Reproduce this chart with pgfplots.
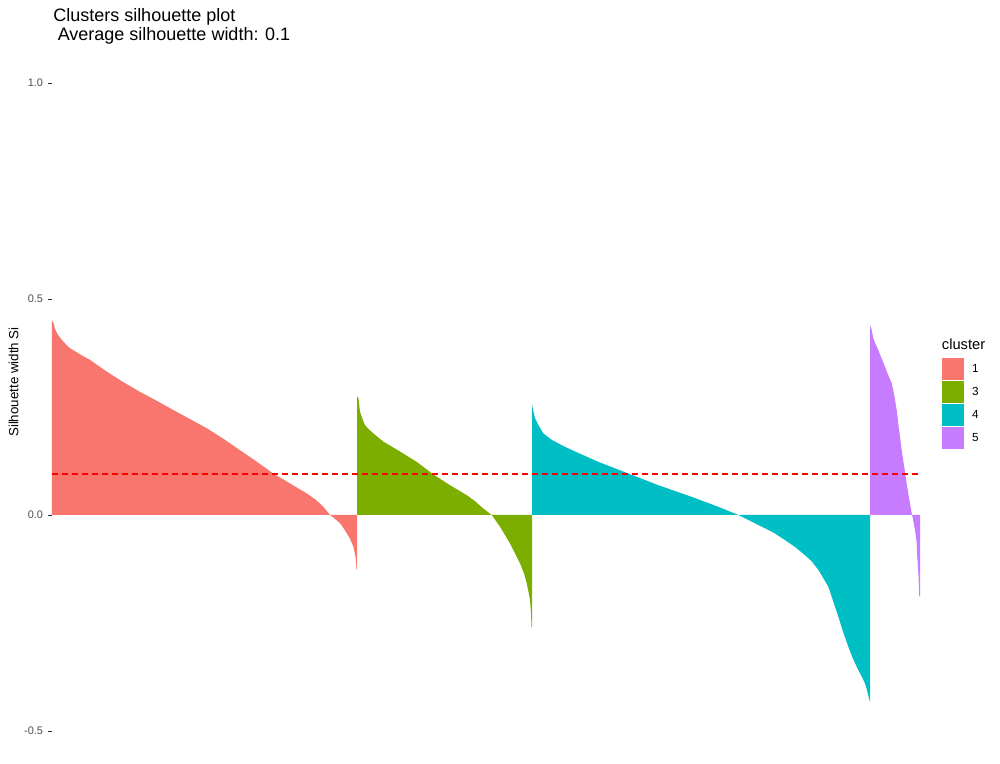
\documentclass[border=0pt]{standalone}
\usepackage{fontspec}
\setmainfont{Liberation Sans}
\usepackage{pgfplots}
\pgfplotsset{compat=1.18}
\definecolor{c1}{HTML}{F8766D}
\definecolor{c3}{HTML}{7CAE00}
\definecolor{c4}{HTML}{00BFC4}
\definecolor{c5}{HTML}{C77CFF}
\definecolor{ticklab}{HTML}{4D4D4D}
\definecolor{tickcol}{HTML}{333333}
\begin{document}
\begin{tikzpicture}
\begin{axis}[
  scale only axis, width=651.75pt, height=518.4pt,
  xmin=52, xmax=921, ymin=-0.55, ymax=1.05,
  axis x line=none, axis y line*=left,
  y axis line style={draw=none},
  ytick={-0.5,0,0.5,1},
  tick align=outside, major tick length=3pt,
  ytick style={draw=tickcol, line width=0.5pt},
  yticklabel style={font=\fontsize{8.2}{9}\selectfont, text=ticklab, inner sep=0pt, xshift=-3.5pt,
    /pgf/number format/fixed, /pgf/number format/fixed zerofill,
    /pgf/number format/precision=1, /pgf/number format/assume math mode=true},
  clip=false,
  legend style={at={(axis cs:941.7,0.3627)}, anchor=north west, draw=none, fill=none,
    inner sep=0pt, outer sep=0pt, row sep=0.75pt, column sep=6.3pt,
    nodes={inner sep=0pt, anchor=west, font=\fontsize{8.8}{10}\selectfont, text=black}},
  legend cell align=left,
  legend image code/.code={\fill[#1, draw=none] (0pt,-8.25pt) rectangle (16.5pt,8.25pt);},
]
\addplot[fill=c1, draw=none] coordinates {(52,0) (52,0.450) (53.5,0.445) (55,0.43) (58,0.417) (62,0.405) (66,0.395) (70,0.386) (80,0.372) (90,0.359) (106.7,0.332) (123,0.308) (140,0.285) (157,0.264) (173.3,0.243) (190,0.222) (206.7,0.201) (223,0.177) (240,0.150) (257,0.123) (273.3,0.096) (290,0.073) (306.7,0.050) (316,0.035) (323.3,0.019) (330,0.0) (335,-0.009) (340,-0.019) (344,-0.032) (346.7,-0.042) (350,-0.055) (353.3,-0.073) (355,-0.09) (356,-0.105) (356.5,-0.126) (357,-0.126) (357,0)} -- cycle;
\addlegendentry{1}
\addplot[fill=c3, draw=none] coordinates {(357,0) (357,0.275) (358.5,0.27) (360,0.239) (362.5,0.222) (365,0.208) (369,0.198) (373.3,0.189) (383.3,0.170) (400,0.147) (416.7,0.123) (433.3,0.094) (450,0.069) (466.7,0.046) (475,0.032) (483.3,0.015) (491.7,0.0) (500,-0.027) (510,-0.066) (520,-0.112) (524,-0.135) (526.7,-0.158) (528.5,-0.178) (530,-0.197) (531,-0.225) (531.5,-0.259) (532,-0.259) (532,0)} -- cycle;
\addlegendentry{3}
\addplot[fill=c4, draw=none] coordinates {(532,0) (532,0.255) (533,0.245) (535,0.224) (538,0.21) (543.3,0.189) (551.7,0.174) (563,0.16) (575,0.147) (598.3,0.123) (628.3,0.096) (658.3,0.069) (691.7,0.042) (718.3,0.019) (738.3,0.0) (758.3,-0.023) (773,-0.04) (785,-0.058) (795,-0.074) (805,-0.093) (812,-0.108) (818.3,-0.127) (823,-0.145) (828.3,-0.166) (833,-0.198) (838.3,-0.235) (843,-0.27) (848.3,-0.305) (853,-0.333) (858.3,-0.359) (862,-0.375) (865,-0.390) (867,-0.405) (869,-0.425) (870,-0.432) (870,0)} -- cycle;
\addlegendentry{4}
\addplot[fill=c5, draw=none] coordinates {(870,0) (870,0.440) (871.5,0.43) (873.3,0.409) (875.5,0.396) (878.3,0.382) (881.5,0.363) (885,0.343) (888,0.325) (891.7,0.305) (894,0.28) (896.7,0.243) (899,0.198) (901.7,0.150) (904,0.115) (906.7,0.073) (909,0.04) (911.7,0.004) (913,-0.01) (915,-0.035) (916.5,-0.06) (917.3,-0.097) (918.5,-0.14) (919.3,-0.189) (920,-0.189) (920,0)} -- cycle;
\addlegendentry{5}
\addplot[draw=red, line width=0.9pt, dash pattern=on 4.5pt off 3pt, forget plot, mark=none] coordinates {(52,0.095) (920,0.095)};
\node[inner sep=0pt, anchor=base west, font=\fontsize{13.5}{15}\selectfont] at (axis cs:53,1.1424) {Clusters silhouette plot};
\node[inner sep=0pt, anchor=base west, font=\fontsize{13.5}{15}\selectfont] at (axis cs:57.5,1.0995) {Average silhouette width: 0.1};
\node[inner sep=0pt, rotate=90, font=\fontsize{10}{11}\selectfont] at (axis cs:13.5,0.3079) {Silhouette width Si};
\node[inner sep=0pt, anchor=base west, font=\fontsize{11}{12}\selectfont] at (axis cs:941.7,0.382) {cluster};
\coordinate (bbsw) at (axis cs:0,-0.5764);
\coordinate (bbne) at (axis cs:1000,1.19213);
\end{axis}
\pgfresetboundingbox
\path[use as bounding box] (bbsw) rectangle (bbne);
\end{tikzpicture}
\end{document}
